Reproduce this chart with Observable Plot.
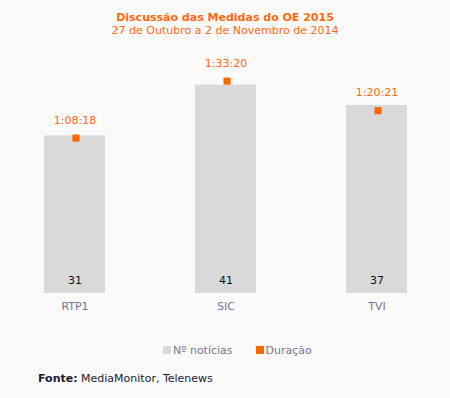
<!DOCTYPE html>
<html>
<head>
<meta charset="utf-8">
<script src="https://cdn.jsdelivr.net/npm/d3@7"></script>
<script src="https://cdn.jsdelivr.net/npm/@observablehq/plot@0.6"></script>
<style>
  html, body { margin: 0; padding: 0; background: #fafafa; }
  body { width: 450px; height: 398px; position: relative; font-family: "DejaVu Sans", Verdana, sans-serif; overflow: hidden; }
  #title { position: absolute; top: 11px; left: 0; width: 450px; text-align: center; color: #ff6a10; font-weight: bold; font-size: 11px; line-height: 13px; }
  #subtitle { position: absolute; top: 24px; left: 0; width: 450px; text-align: center; color: #ff6a10; font-size: 11px; line-height: 13px; }
  #chart { position: absolute; top: 45px; left: 0; }
  #legend { position: absolute; top: 344px; left: 163px; font-size: 11px; color: #7a7391; line-height: 14px; white-space: nowrap; }
  #legend span.sw { display: inline-block; width: 8px; height: 8px; margin-right: 2px; }
  #legend span.item { margin-right: 23px; }
  #source { position: absolute; top: 372px; left: 38px; font-size: 11px; color: #1a1a2e; }
</style>
</head>
<body>
<div id="title">Discussão das Medidas do OE 2015</div>
<div id="subtitle">27 de Outubro a 2 de Novembro de 2014</div>
<div id="chart"></div>
<div id="legend"></div>
<div id="source"><b>Fonte:</b> MediaMonitor, Telenews</div>
<script>
const canais = ["RTP1", "SIC", "TVI"];
const noticias = [31, 41, 37];
const duracaoLabels = ["1:08:18", "1:33:20", "1:20:21"];
const legendLabels = ["Nº notícias", "Duração"];
const barColor = "#d9d9d9";
const dotColor = "#ff6600";

// seconds from h:mm:ss
const toSec = s => { const [h, m, sec] = s.split(":").map(Number); return h * 3600 + m * 60 + sec; };
// secondary axis mapped onto the primary one (seconds per unit of notícias)
const secPerUnit = 134;

const data = canais.map((c, i) => ({
  canal: c,
  n: noticias[i],
  dur: toSec(duracaoLabels[i]) / secPerUnit,
  durLabel: duracaoLabels[i]
}));

const plot = Plot.plot({
  width: 450,
  height: 275,
  marginLeft: 43,
  marginRight: 43,
  marginTop: 0,
  marginBottom: 27,
  style: { background: "transparent", fontFamily: "DejaVu Sans, Verdana, sans-serif", fontSize: "11px" },
  x: { domain: canais, paddingInner: 0.597, paddingOuter: 0, label: null, axis: null },
  y: { domain: [0, 48.8], axis: null },
  marks: [
    Plot.barY(data, { x: "canal", y: "n", fill: barColor }),
    Plot.text(data, { x: "canal", y: 0, text: d => String(d.n), dy: -13, fill: "#111", fontSize: 11 }),
    Plot.text(data, { x: "canal", y: 0, text: "canal", dy: 13, fill: "#7a7391", fontSize: 11 }),
    Plot.dot(data, { x: "canal", y: "dur", symbol: "square", r: 4, fill: dotColor, dx: 1 }),
    Plot.text(data, { x: "canal", y: "dur", text: "durLabel", dy: -18, fill: "#ff6a10", fontSize: 11 })
  ]
});
document.getElementById("chart").appendChild(plot);

document.getElementById("legend").innerHTML =
  `<span class="item"><span class="sw" style="background:${barColor}"></span>${legendLabels[0]}</span>` +
  `<span><span class="sw" style="background:${dotColor}"></span>${legendLabels[1]}</span>`;
</script>
</body>
</html>
